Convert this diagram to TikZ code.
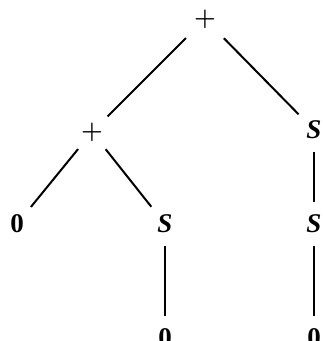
\documentclass[tikz,border=0pt]{standalone}
\usepackage{fontspec}
\setmainfont{Liberation Serif}
\usetikzlibrary{positioning}
\newcommand\treefont{\fontsize{27pt}{30pt}\selectfont\bfseries\boldmath}

\begin{document}
\begin{tikzpicture}[auto,on grid,line width=2pt,
 main node/.style={circle,inner sep=0pt,minimum size=42pt,font=\treefont}]
  \useasboundingbox (0,0) rectangle (323pt,-341pt);

  \node[main node,minimum size=52pt] (1) at (205pt,-19pt) {$+$};
  \node[main node] (2) [below left=113pt and 113pt of 1] {$+$};
  \node[main node] (3) [below right=111pt and 109pt of 1] {\textit{S}};
  \node[main node] (4) [below left=92pt and 75pt of 2] {0};
  \node[main node] (5) [below right=92pt and 73pt of 2] {\textit{S}};
  \node[main node] (6) [below=94pt of 3] {\textit{S}};
  \node[main node] (7) [below=114pt of 5] {0};
  \node[main node] (8) [below=114pt of 6] {0};

  \foreach \s/\t in {1/2, 1/3, 2/4, 2/5, 5/7, 3/6, 6/8} {
   \path[draw] (\s) edge (\t);}
\end{tikzpicture}
\end{document}
